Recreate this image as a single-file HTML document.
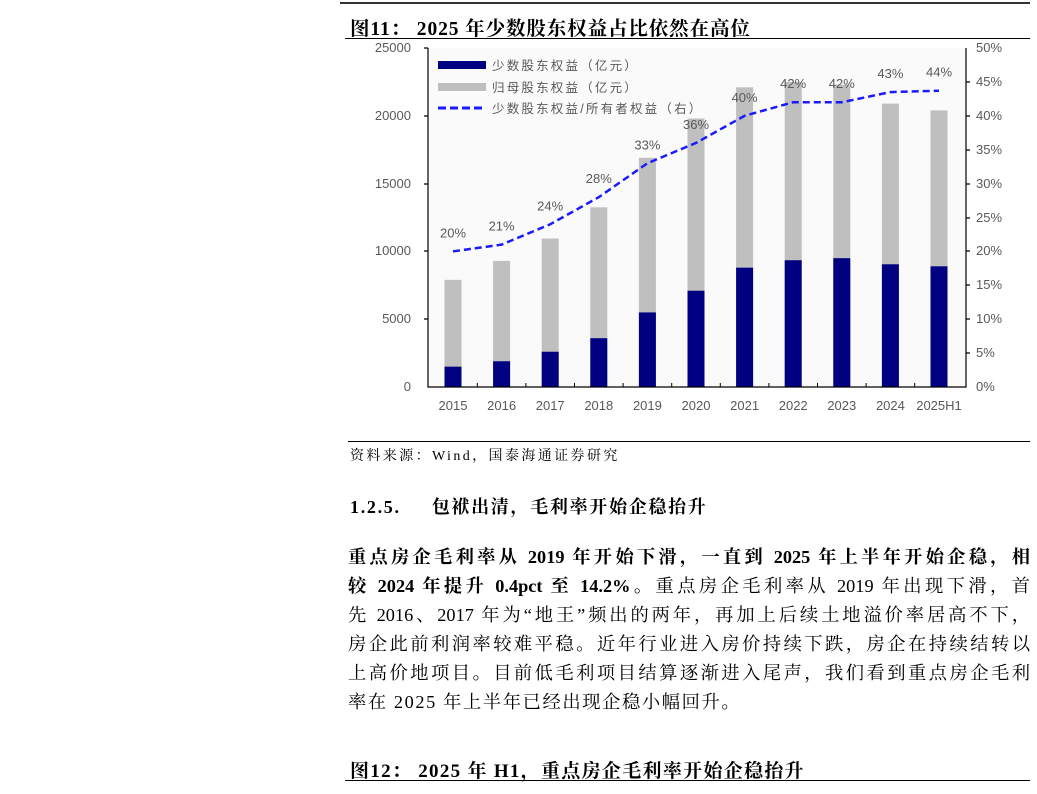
<!DOCTYPE html>
<html><head><meta charset="utf-8"><style>
body{margin:0;width:1037px;height:794px;background:#fff;position:relative;overflow:hidden;font-family:"Liberation Serif","Noto Serif CJK SC",serif;color:#000}
.a{position:absolute;white-space:nowrap}
.l{position:absolute;left:348px;width:682px;font-size:18.3px;line-height:29px;text-align:justify;text-align-last:justify;white-space:nowrap}
b{font-weight:bold}
</style></head><body>
<div class="a" style="left:340px;top:2px;width:690px;height:2px;background:#333"></div>
<div class="a" style="left:350px;top:13px;font-size:19.5px;font-weight:bold;letter-spacing:0.9px">图11：&nbsp;2025 年少数股东权益占比依然在高位</div>
<div class="a" style="left:345px;top:38px;width:685px;height:1px;background:#000"></div>
<svg class="a" style="left:0;top:0" width="1037" height="440" font-family="Liberation Sans, Noto Sans CJK SC, sans-serif">
<rect x="428" y="48" width="538" height="339" fill="#fafafa"/>
<g fill="#595959" font-size="13" text-anchor="end">
<text x="411" y="52">25000</text><text x="411" y="120">20000</text><text x="411" y="188">15000</text><text x="411" y="255">10000</text><text x="411" y="323">5000</text><text x="411" y="391">0</text>
</g>
<g fill="#595959" font-size="13">
<text x="976" y="52">50%</text><text x="976" y="86">45%</text><text x="976" y="120">40%</text><text x="976" y="154">35%</text><text x="976" y="188">30%</text><text x="976" y="222">25%</text><text x="976" y="255">20%</text><text x="976" y="289">15%</text><text x="976" y="323">10%</text><text x="976" y="357">5%</text><text x="976" y="391">0%</text>
</g>
<g id="bars"></g>
<g stroke="#000" stroke-width="1.2" fill="none">
<path d="M428 48V387H966V48"/>
<path d="M424 48h4M424 116h4M424 184h4M424 251h4M424 319h4M966 82h4M966 116h4M966 150h4M966 184h4M966 218h4M966 251h4M966 285h4M966 319h4M966 353h4"/>
</g>
<g id="x" fill="#595959" font-size="13" text-anchor="middle"></g>
<rect x="438" y="61" width="48" height="8" fill="#000080"/>
<rect x="438" y="83" width="48" height="8" fill="#bfbfbf"/>
<line x1="438" y1="108" x2="486" y2="108" stroke="#1a1aff" stroke-width="3" stroke-dasharray="8,4"/>
<g fill="#595959" font-size="12.5" letter-spacing="2.2"><text x="492" y="70">少数股东权益（亿元）</text><text x="492" y="92">归母股东权益（亿元）</text><text x="492" y="113">少数股东权益/所有者权益（右）</text></g>
</svg>
<script>
var tot=[7900,9300,10950,13250,16900,19800,22100,22500,22300,20900,20400],mi=[1500,1900,2600,3600,5500,7100,8800,9350,9500,9050,8900],pc=[20,21,24,28,33,36,40,42,42,43.5,43.7],lb=["20%","21%","24%","28%","33%","36%","40%","42%","42%","43%","44%"],yr=["2015","2016","2017","2018","2019","2020","2021","2022","2023","2024","2025H1"];
var s="",x="",pts=[],t="";
for(var i=0;i<11;i++){var c=453+i*48.6,yT=387-tot[i]*0.01356,yM=387-mi[i]*0.01356,yP=387-pc[i]*6.78;
s+='<rect x="'+(c-8.5)+'" y="'+yT+'" width="17" height="'+(387-yT)+'" fill="#bfbfbf"/><rect x="'+(c-8.5)+'" y="'+yM+'" width="17" height="'+(387-yM)+'" fill="#000080"/>';
x+='<text x="'+c+'" y="410">'+yr[i]+'</text>';pts.push(c+','+yP);
t+='<text x="'+c+'" y="'+(yP-14)+'" text-anchor="middle" fill="#595959" font-size="13">'+lb[i]+'</text>';
if(i<10)s+='<line x1="'+(c+24.3)+'" y1="387" x2="'+(c+24.3)+'" y2="383" stroke="#000"/>';}
s+='<polyline points="'+pts.join(' ')+'" fill="none" stroke="#1a1aff" stroke-width="2.5" stroke-dasharray="7,4"/>'+t;
document.getElementById('bars').innerHTML=s;document.getElementById('x').innerHTML=x;
</script>
<div class="a" style="left:348px;top:441px;width:682px;height:1px;background:#000"></div>
<div class="a" style="left:350px;top:445px;font-size:14px;letter-spacing:2.4px">资料来源：Wind，国泰海通证券研究</div>
<div class="a" style="left:350px;top:493px;font-size:18px;font-weight:bold;letter-spacing:1.7px">1.2.5.&nbsp;&nbsp;&nbsp;&nbsp;&nbsp;包袱出清，毛利率开始企稳抬升</div>
<div class="l" style="top:543px"><b>重点房企毛利率从 2019 年开始下滑，一直到 2025 年上半年开始企稳，相</b></div>
<div class="l" style="top:572px"><b>较 2024 年提升 0.4pct 至 14.2%。</b>重点房企毛利率从 2019 年出现下滑，首</div>
<div class="l" style="top:601px">先 2016、2017 年为“地王”频出的两年，再加上后续土地溢价率居高不下，</div>
<div class="l" style="top:630px">房企此前利润率较难平稳。近年行业进入房价持续下跌，房企在持续结转以</div>
<div class="l" style="top:659px">上高价地项目。目前低毛利项目结算逐渐进入尾声，我们看到重点房企毛利</div>
<div class="l" style="top:688px;text-align-last:left;width:auto;letter-spacing:1.6px">率在 2025 年上半年已经出现企稳小幅回升。</div>
<div class="a" style="left:350px;top:756px;font-size:19px;font-weight:bold;letter-spacing:1.3px">图12：&nbsp;2025 年 H1，重点房企毛利率开始企稳抬升</div>
<div class="a" style="left:345px;top:780px;width:685px;height:1px;background:#000"></div>
</body></html>
